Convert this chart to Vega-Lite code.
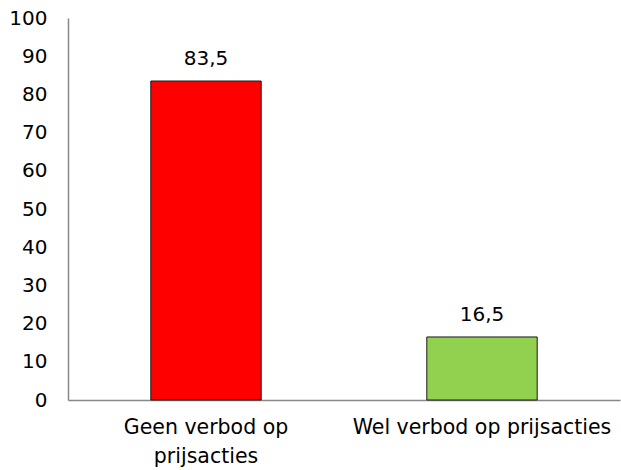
{
  "$schema": "https://vega.github.io/schema/vega-lite/v6.json",
  "autosize": {"type": "none"},
  "padding": {"left": 68, "top": 18, "right": 1, "bottom": 70},
  "width": 552,
  "height": 382,
  "background": "white",
  "config": {
    "view": {"stroke": null},
    "locale": {"number": {"decimal": ",", "thousands": ".", "grouping": [3], "currency": ["€", ""]}},
    "font": "DejaVu Sans"
  },
  "data": {
    "values": [
      {"categorie": "Geen verbod op prijsacties", "waarde": 83.5, "kleur": "#FF0000"},
      {"categorie": "Wel verbod op prijsacties", "waarde": 16.5, "kleur": "#92D050"}
    ]
  },
  "encoding": {
    "x": {
      "field": "categorie",
      "type": "nominal",
      "sort": null,
      "scale": {"paddingInner": 0.6, "paddingOuter": 0.3},
      "axis": {
        "title": null,
        "labelAngle": 0,
        "ticks": false,
        "domainColor": "#888888",
        "domainWidth": 1.5,
        "labelFontSize": 20.5,
        "labelColor": "#000000",
        "labelPadding": 17,
        "labelLineHeight": 29,
        "labelLimit": 400,
        "labelFont": "DejaVu Sans",
        "labelExpr": "datum.value == 'Geen verbod op prijsacties' ? ['Geen verbod op', 'prijsacties'] : datum.value"
      }
    },
    "y": {
      "field": "waarde",
      "type": "quantitative",
      "scale": {"domain": [0, 100], "nice": false},
      "axis": {
        "title": null,
        "values": [0, 10, 20, 30, 40, 50, 60, 70, 80, 90, 100],
        "grid": false,
        "ticks": false,
        "domainColor": "#888888",
        "domainWidth": 1.5,
        "labelFontSize": 20,
        "labelColor": "#000000",
        "labelPadding": 21,
        "labelFont": "DejaVu Sans"
      }
    }
  },
  "layer": [
    {
      "mark": {"type": "bar", "stroke": "#1a1a1a", "strokeWidth": 1},
      "encoding": {
        "color": {"field": "kleur", "type": "nominal", "scale": null, "legend": null}
      }
    },
    {
      "mark": {"type": "text", "baseline": "bottom", "dy": -12, "fontSize": 20, "font": "DejaVu Sans", "color": "#000000"},
      "encoding": {
        "text": {"field": "waarde", "type": "quantitative", "format": ".1f"}
      }
    }
  ]
}
